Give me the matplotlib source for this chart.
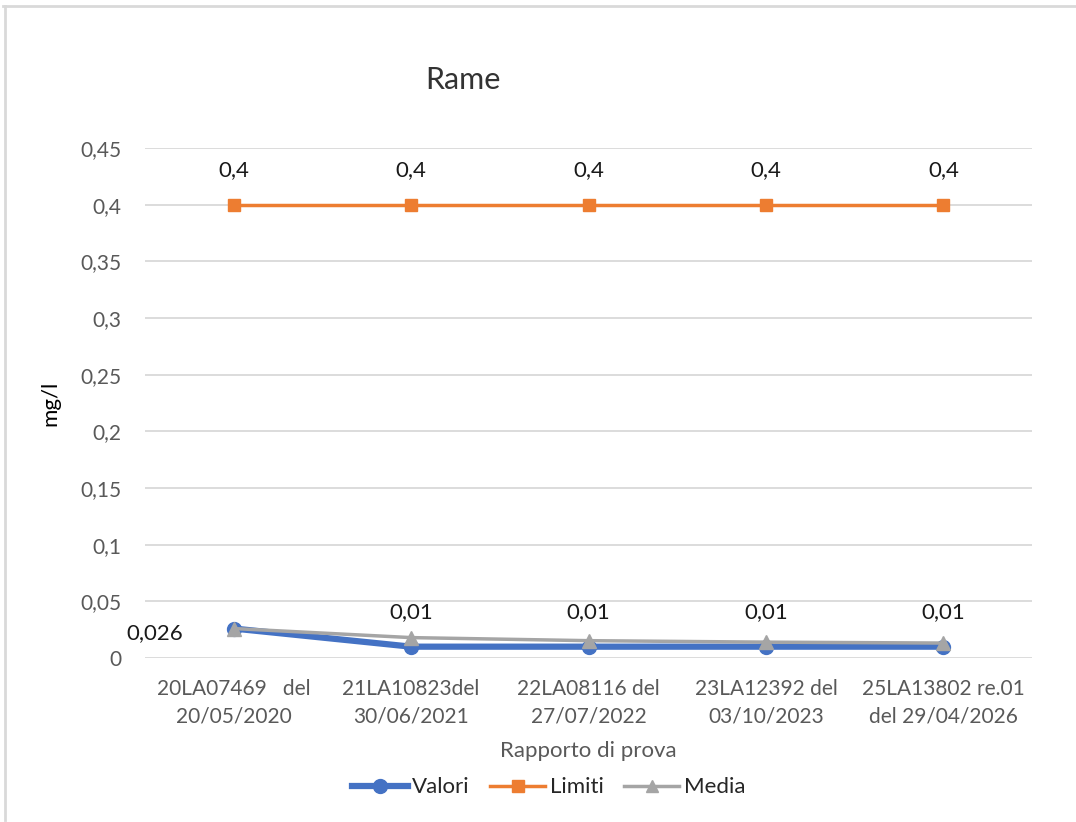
import matplotlib.pyplot as plt
import numpy as np
from matplotlib.lines import Line2D

plt.rcParams['font.family'] = ['Lato', 'DejaVu Sans']

categorie = ["20LA07469   del\n20/05/2020", "21LA10823del\n30/06/2021",
             "22LA08116 del\n27/07/2022", "23LA12392 del\n03/10/2023",
             "25LA13802 re.01\ndel 29/04/2026"]
valori = [0.026, 0.01, 0.01, 0.01, 0.01]
limiti = [0.4, 0.4, 0.4, 0.4, 0.4]
media = [0.026, 0.018, 0.0153, 0.014, 0.0132]
etichette_valori = ["0,026", "0,01", "0,01", "0,01", "0,01"]
etichette_limiti = ["0,4", "0,4", "0,4", "0,4", "0,4"]
yticks = [0, 0.05, 0.1, 0.15, 0.2, 0.25, 0.3, 0.35, 0.4, 0.45]
ytick_labels = ["0", "0,05", "0,1", "0,15", "0,2", "0,25", "0,3", "0,35", "0,4", "0,45"]

blu = "#4472C4"
arancio = "#ED7D31"
grigio = "#A5A5A5"
testo = "#595959"

fig = plt.figure(figsize=(10.76, 8.22), dpi=100)
ax = fig.add_axes([0.1348, 0.1995, 0.8244, 0.6205])

x = np.arange(len(categorie))
ax.plot(x, valori, color=blu, lw=4.5, marker='o', ms=10, zorder=3, solid_capstyle='round')
ax.plot(x, limiti, color=arancio, lw=2.5, marker='s', ms=9, zorder=3)
ax.plot(x, media, color=grigio, lw=2.5, marker='^', ms=10, zorder=4)

# etichette dati
for i in range(len(x)):
    ax.annotate(etichette_limiti[i], (x[i], limiti[i]), xytext=(0, 25), textcoords='offset points',
                ha='center', va='center', fontsize=16, color='#1a1a1a')
    if i == 0:
        ax.annotate(etichette_valori[i], (x[i], valori[i]), xytext=(-77, -3), textcoords='offset points',
                    ha='left', va='center', fontsize=16, color='#1a1a1a')
    else:
        ax.annotate(etichette_valori[i], (x[i], valori[i]), xytext=(0, 25), textcoords='offset points',
                    ha='center', va='center', fontsize=16, color='#1a1a1a')

ax.set_xlim(-0.5, 4.5)
ax.set_ylim(0, 0.45)
ax.set_yticks(yticks)
ax.set_yticklabels(ytick_labels)
ax.set_xticks(x)
ax.set_xticklabels(categorie, linespacing=1.45)
ax.tick_params(axis='both', length=0, labelsize=15, labelcolor=testo)
ax.tick_params(axis='y', pad=17)
ax.tick_params(axis='x', pad=15)
ax.grid(axis='y', color='#D9D9D9', lw=1.3)
ax.set_axisbelow(True)
for s in ax.spines.values():
    s.set_visible(False)

ax.set_ylabel("mg/l", fontsize=16, color='black', labelpad=14)
ax.set_xlabel("Rapporto di prova", fontsize=16, color=testo, labelpad=11)
fig.text(0.43, 0.903, "Rame", fontsize=22, color='#333333', ha='center', va='center')

handles = [Line2D([], [], color=blu, lw=4.5, marker='o', ms=10),
           Line2D([], [], color=arancio, lw=2.5, marker='s', ms=8),
           Line2D([], [], color=grigio, lw=2.5, marker='^', ms=9)]
fig.legend(handles, ["Valori", "Limiti", "Media"], loc='center', bbox_to_anchor=(0.51, 0.042),
           ncol=3, frameon=False, fontsize=16, handlelength=2.5, handletextpad=0.2,
           columnspacing=0.9, labelcolor='#262626')

# cornice
fig.add_artist(Line2D([0.005, 0.005], [0.003, 0.993], color='#D9D9D9', lw=2, transform=fig.transFigure))
fig.add_artist(Line2D([0.003, 1.0], [0.993, 0.993], color='#D9D9D9', lw=2, transform=fig.transFigure))

fig.savefig("out.png", dpi=100)
